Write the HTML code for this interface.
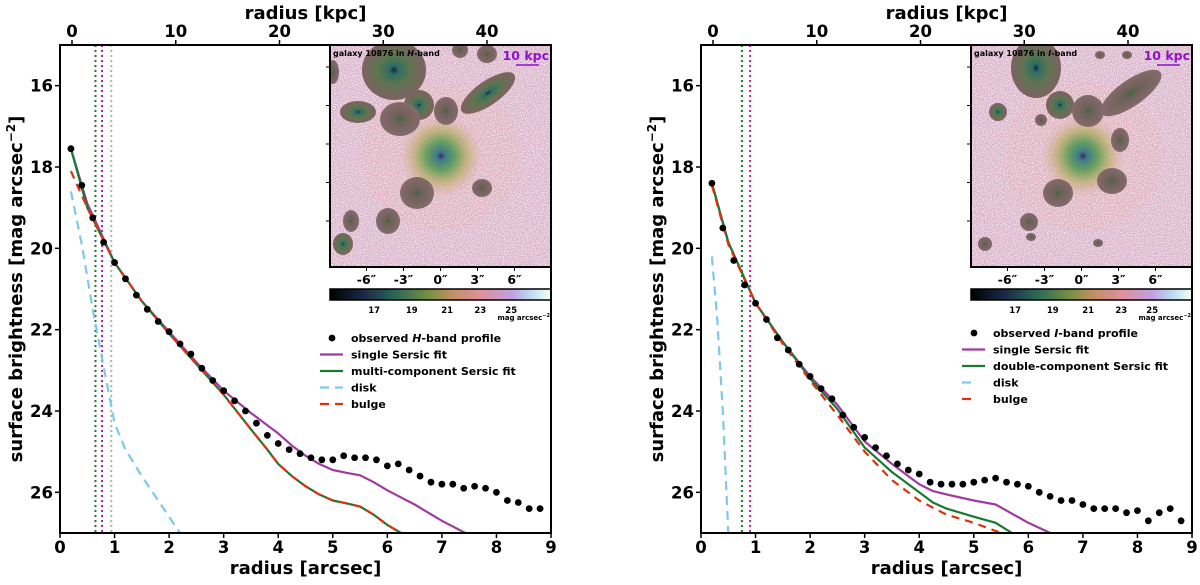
<!DOCTYPE html>
<html><head><meta charset="utf-8"><style>
body{margin:0;background:#fff}
svg text{font-family:"DejaVu Sans","Liberation Sans",sans-serif;font-weight:bold}
</style></head><body>
<svg id="c" width="1200" height="580" viewBox="0 0 1200 580" xmlns="http://www.w3.org/2000/svg">
<defs>
<filter id="noise" x="0" y="0" width="100%" height="100%">
<feTurbulence type="fractalNoise" baseFrequency="0.9" numOctaves="1" seed="3" result="t"/>
<feColorMatrix in="t" type="matrix" values="0 0 0 0 1  0 0 0 0 1  0 0 0 0 1  0 0 0 -2.2 1.35" result="m"/>
<feComposite in="m" in2="SourceGraphic" operator="in"/>
</filter>
<radialGradient id="glowL"><stop offset="0" stop-color="#3a2a60"/><stop offset="0.1" stop-color="#3f7a8a"/><stop offset="0.35" stop-color="#6aa060"/><stop offset="0.65" stop-color="#c0b070" stop-opacity="0.75"/><stop offset="1" stop-color="#e0b0b0" stop-opacity="0"/></radialGradient>
<radialGradient id="blob"><stop offset="0" stop-color="#1a2050"/><stop offset="0.15" stop-color="#2e7060"/><stop offset="0.5" stop-color="#5e7450"/><stop offset="1" stop-color="#7e6262"/></radialGradient>
<radialGradient id="blob2"><stop offset="0" stop-color="#3a6a40"/><stop offset="0.25" stop-color="#6e6058"/><stop offset="1" stop-color="#846a6c"/></radialGradient>
<linearGradient id="cbar" x1="0" x2="1"><stop offset="0" stop-color="#000"/><stop offset="0.15" stop-color="#1a2848"/><stop offset="0.3" stop-color="#2a6a58"/><stop offset="0.45" stop-color="#7a9040"/><stop offset="0.55" stop-color="#c09060"/><stop offset="0.68" stop-color="#e0909a"/><stop offset="0.82" stop-color="#c0a0e0"/><stop offset="0.92" stop-color="#c0e0f0"/><stop offset="1" stop-color="#f5fff5"/></linearGradient>
</defs>
</svg>
<script>
// ---- data: left panel (H-band) ----
const obsR = [0.2,0.4,0.6,0.8,1.0,1.2,1.4,1.6,1.8,2.0,2.2,2.4,2.6,2.8,3.0,3.2,3.4,3.6,3.8,4.0,4.2,4.4,4.6,4.8,5.0,5.2,5.4,5.6,5.8,6.0,6.2,6.4,6.6,6.8,7.0,7.2,7.4,7.6,7.8,8.0,8.2,8.4,8.6,8.8];
const hObs = [17.55,18.45,19.25,19.85,20.35,20.75,21.15,21.5,21.8,22.05,22.35,22.6,22.95,23.25,23.5,23.75,24.0,24.3,24.6,24.8,24.95,25.05,25.15,25.2,25.2,25.1,25.15,25.15,25.2,25.35,25.3,25.45,25.6,25.75,25.8,25.8,25.9,25.85,25.9,26.0,26.2,26.25,26.4,26.4];
const hSingleR = [0.2,0.5,1,1.5,2,2.5,3,3.5,3.8,4,4.25,4.5,4.75,5,5.25,5.5,5.75,6,6.5,7,7.5];
const hSingle = [17.55,18.9,20.35,21.3,22.05,22.8,23.5,24.05,24.35,24.55,24.85,25.1,25.3,25.45,25.52,25.58,25.75,25.95,26.3,26.7,27.05];
const hMultiR = [0.2,0.5,1,1.5,2,2.5,3,3.5,3.8,4,4.25,4.5,4.75,5,5.25,5.5,5.75,6,6.25];
const hMulti = [17.55,19.0,20.35,21.3,22.1,22.85,23.6,24.45,24.95,25.3,25.6,25.85,26.05,26.2,26.27,26.35,26.55,26.8,27.0];
const hBulge = [18.1,19.0,20.35,21.3,22.1,22.85,23.6,24.45,24.95,25.3,25.6,25.85,26.05,26.2,26.27,26.35,26.55,26.8,27.0];
const hDiskR = [0.2,0.4,0.6,0.8,1.0,1.2,1.5,2.0,2.2];
const hDisk = [18.6,19.9,21.5,22.9,24.3,24.95,25.6,26.6,27.0];
const hVlines = [0.65,0.77,0.94];
// ---- data: right panel (I-band) ----
const iObs = [18.4,19.5,20.3,20.9,21.35,21.75,22.2,22.5,22.85,23.15,23.45,23.7,24.1,24.4,24.65,24.9,25.1,25.3,25.45,25.55,25.75,25.8,25.8,25.8,25.75,25.7,25.65,25.75,25.8,25.85,26.0,26.1,26.2,26.2,26.3,26.4,26.4,26.4,26.5,26.45,26.7,26.5,26.4,26.7];
const iSingleR = [0.2,0.5,1,1.5,2,2.5,3,3.5,4,4.25,4.5,5,5.4,6,6.4];
const iSingle = [18.4,19.85,21.35,22.3,23.15,23.85,24.75,25.3,25.8,25.97,26.05,26.2,26.3,26.75,27.0];
const iDoubleR = [0.2,0.5,1,1.5,2,2.5,3,3.5,4,4.25,4.5,5,5.4,5.7];
const iDouble = [18.4,19.85,21.35,22.3,23.2,23.95,24.9,25.5,26.0,26.25,26.4,26.6,26.75,27.0];
const iBulgeR = [0.2,0.5,1,1.5,2,2.5,3,3.5,4,4.5,5,5.5];
const iBulge = [18.45,19.9,21.35,22.35,23.25,24.1,25.0,25.7,26.2,26.55,26.75,27.0];
const iDiskR = [0.2,0.3,0.4,0.5];
const iDisk = [20.2,21.8,24.0,27.0];
const iVlines = [0.75,0.9];
// ---- ticks ----
const xTicks = [0,1,2,3,4,5,6,7,8,9];
const yTicks = [16,18,20,22,24,26];
const kpcTicks = [0,10,20,30,40];
const insetTicks = ["-6\u2033","-3\u2033","0\u2033","3\u2033","6\u2033"];
const cbarTicks = ["17","19","21","23","25"];

const svg = document.getElementById('c');
const NS = 'http://www.w3.org/2000/svg';
function mk(tag, attrs, parent){const e=document.createElementNS(NS,tag);for(const k in attrs)e.setAttribute(k,attrs[k]);(parent||svg).appendChild(e);return e;}
function txt(s, attrs, parent){const e=mk('text',attrs,parent);e.textContent=s;return e;}

function panel(ox, name, cfg){
  const X0=ox, W=491, Y0=45, H=488;
  const sx=v=>X0+v*W/9, sy=v=>Y0+(v-15)*H/12;
  const g=mk('g',{});
  
  
  const clipId='clip'+ox;
  const cp=mk('clipPath',{id:clipId},g); mk('rect',{x:X0,y:Y0,width:W,height:H},cp);
  const plot=mk('g',{'clip-path':'url(#'+clipId+')'},g);
  const vcol=['#1a7a30','#c020a0','#b0b0b0'];
  cfg.vl.forEach((v,i)=>{const l=mk('line',{x1:sx(v),x2:sx(v),y1:Y0,y2:Y0+H,stroke:vcol[i],'stroke-width':2,'stroke-dasharray':'2,3'},plot);
    
    });
  function line(xs,ys,col,dash,nm){const d=xs.map((x,i)=>(i?'L':'M')+sx(x).toFixed(1)+','+sy(ys[i]).toFixed(1)).join('');
    const p=mk('path',{d:d,fill:'none',stroke:col,'stroke-width':2.2,'stroke-linejoin':'round'});if(dash)p.setAttribute('stroke-dasharray',dash);plot.appendChild(p);
    
    }
  line(cfg.diskR,cfg.disk,'#7ec8ec','9,6','disk-curve');
  line(cfg.singleR,cfg.single,'#a03aa0',null,'single-sersic-curve');
  line(cfg.multiR,cfg.multi,'#187a30',null,'multi-sersic-curve');
  line(cfg.bulgeR,cfg.bulge,'#e03010','8,6','bulge-curve');
  obsR.forEach((r,i)=>{const c=mk('circle',{cx:sx(r),cy:sy(cfg.obs[i]),r:3.4,fill:'#000'},plot);
    
    });
  // inset
  const ins=mk('g',{},g);
  
  
  const ix=cfg.ix, iw=X0+W-ix, iy=45, ih=222;
  const icp=mk('clipPath',{id:'ic'+ox},ins); mk('rect',{x:ix,y:iy,width:iw,height:ih},icp);
  const ig=mk('g',{'clip-path':'url(#ic'+ox+')'},ins);
  mk('rect',{x:ix,y:iy,width:iw,height:ih,fill:'#d8b0c8'},ig);
  mk('ellipse',{cx:cfg.main[0],cy:cfg.main[1],rx:80,ry:75,fill:'#e2aab0',opacity:0.45},ig);
  mk('rect',{x:ix,y:iy,width:iw,height:ih,fill:'#f0dcf0',filter:'url(#noise)'},ig);
  mk('circle',{cx:cfg.main[0],cy:cfg.main[1],r:42,fill:'url(#glowL)'},ig);
  cfg.blobs.forEach(b=>{const e=mk('ellipse',{cx:b[0],cy:b[1],rx:b[2],ry:b[3],fill:b[5]?'url(#blob2)':'url(#blob)',transform:'rotate('+(b[4]||0)+' '+b[0]+' '+b[1]+')'},ig);
    
    });
  mk('rect',{x:ix,y:iy,width:iw,height:ih,fill:'none',stroke:'#000','stroke-width':2},ins);
  txt('',{x:ix+3,y:iy+11,'font-size':8,fill:'#000'},ins).innerHTML=cfg.titleHtml;
  txt('10 kpc',{x:X0+W-2,y:iy+15,'font-size':12.5,fill:'#9010d0','text-anchor':'end'},ins);
  mk('line',{x1:X0+W-35,x2:X0+W-12,y1:iy+20,y2:iy+20,stroke:'#9010d0','stroke-width':1.5},ins);
  [-1,-0.5,0,0.5,1].forEach((f,i)=>{const cx=ix+iw/2+f*74; mk('line',{x1:cx,x2:cx,y1:iy+ih,y2:iy+ih+4,stroke:'#000'},ins);
    txt(insetTicks[i],{x:cx,y:iy+ih+17,'font-size':12.5,'text-anchor':'middle'},ins);});
  [0,1,2,3,4].forEach(i=>mk('line',{x1:ix-4,x2:ix,y1:iy+22+i*38.5,y2:iy+22+i*38.5,stroke:'#000'},ins));
  const cb=mk('rect',{x:ix,y:289,width:iw,height:11,fill:'url(#cbar)',stroke:'#000','stroke-width':1.5},ins);
  
  
  [0.2,0.37,0.53,0.68,0.82].forEach((f,i)=>{txt(cbarTicks[i],{x:ix+f*iw,y:313,'font-size':8.5,'text-anchor':'middle'},ins);});
  txt('',{x:X0+W-1,y:320,'font-size':7,'text-anchor':'end'},ins).innerHTML='mag arcsec<tspan dy="-3" font-size="5">\u22122</tspan>';
  // frame & axes
  mk('rect',{x:X0,y:Y0,width:W,height:H,fill:'none',stroke:'#000','stroke-width':2},g);
  xTicks.forEach(v=>{mk('line',{x1:sx(v),x2:sx(v),y1:Y0+H,y2:Y0+H+5,stroke:'#000','stroke-width':1.5},g);
    txt(String(v),{x:sx(v),y:553,'font-size':16.5,'text-anchor':'middle'},g);});
  yTicks.forEach(v=>{mk('line',{x1:X0-5,x2:X0,y1:sy(v),y2:sy(v),stroke:'#000','stroke-width':1.5},g);
    txt(String(v),{x:X0-7,y:sy(v)+6,'font-size':16.5,'text-anchor':'end'},g);});
  kpcTicks.forEach(v=>{const x=cfg.k0+v*10.375; mk('line',{x1:x,x2:x,y1:Y0-5,y2:Y0,stroke:'#000','stroke-width':1.5},g);
    txt(String(v),{x:x,y:37,'font-size':16.5,'text-anchor':'middle'},g);});
  txt('radius [arcsec]',{x:X0+W/2,y:574,'font-size':18,'text-anchor':'middle'},g);
  txt('radius [kpc]',{x:X0+W/2,y:19,'font-size':18,'text-anchor':'middle'},g);
  const yl=txt('',{x:0,y:0,'font-size':18,'text-anchor':'middle',transform:'translate('+(X0-38)+','+(Y0+H/2)+') rotate(-90)'},g);
  yl.innerHTML='surface brightness [mag arcsec<tspan dy="-7" font-size="12">\u22122</tspan><tspan dy="7">]</tspan>';
  
  // legend
  const lg=mk('g',{},g);
  
  
  const L=cfg.leg;
  mk('circle',{cx:L.x+12,cy:L.y,r:3.4,fill:'#000'},lg);
  const labs=cfg.labels, cols=['#a03aa0','#187a30','#7ec8ec','#e03010'], dashes=[null,null,cfg.disDash,cfg.disDash];
  txt('',{x:L.x+31,y:L.y+4,'font-size':11},lg).innerHTML=labs[0];
  for(let i=0;i<4;i++){const y=L.y+(i+1)*16.5; const l=mk('line',{x1:L.x,x2:L.x+23,y1:y,y2:y,stroke:cols[i],'stroke-width':2.2},lg);
    if(dashes[i])l.setAttribute('stroke-dasharray',dashes[i]);
    txt(labs[i+1],{x:L.x+31,y:y+4,'font-size':11},lg);}
}
panel(60,'h-band-panel',{obs:hObs,singleR:hSingleR,single:hSingle,multiR:hMultiR,multi:hMulti,bulgeR:hMultiR,bulge:hBulge,diskR:hDiskR,disk:hDisk,vl:hVlines,
  ix:330,k0:72,main:[441,156],titleHtml:'galaxy 10876 in <tspan font-style="italic">H</tspan>-band',
  blobs:[[394,70,32,30,0],[419,105,15,15,0],[358,112,18,11,0],[400,119,20,17,0,1],[446,111,12,14,0,1],[488,93,32,12,-35],[417,193,17,16,0,1],[482,188,10,9,0,1],[351,221,8,11,0,1],[388,221,12,13,0,1],[343,244,10,11,0],[487,54,10,9,0,1],[460,50,8,8,0,1],[333,72,6,12,0,1]],
  leg:{x:320,y:338},labels:['observed <tspan font-style="italic">H</tspan>-band profile','single Sersic fit','multi-component Sersic fit','disk','bulge'],disDash:'9,6'});
panel(701,'i-band-panel',{obs:iObs,singleR:iSingleR,single:iSingle,multiR:iDoubleR,multi:iDouble,bulgeR:iBulgeR,bulge:iBulge,diskR:iDiskR,disk:iDisk,vl:iVlines,
  ix:971,k0:713,main:[1083,156],titleHtml:'galaxy 10876 in <tspan font-style="italic">I</tspan>-band',
  blobs:[[1036,68,25,30,0],[1060,105,14,14,0],[998,112,9,9,0],[1041,120,6,6,0,1],[1088,111,16,16,0,1],[1131,93,36,13,-35,1],[1120,140,9,12,0,1],[1058,193,15,14,0,1],[1112,181,15,13,0,1],[1029,222,9,9,0,1],[1031,237,5,4,0,1],[1098,243,5,4,0,1],[985,244,7,7,0,1],[1100,55,5,4,0,1],[1127,55,5,4,0,1]],
  leg:{x:962,y:333},labels:['observed <tspan font-style="italic">I</tspan>-band profile','single Sersic fit','double-component Sersic fit','disk','bulge'],disDash:'9,14'});
</script>
</body></html>
